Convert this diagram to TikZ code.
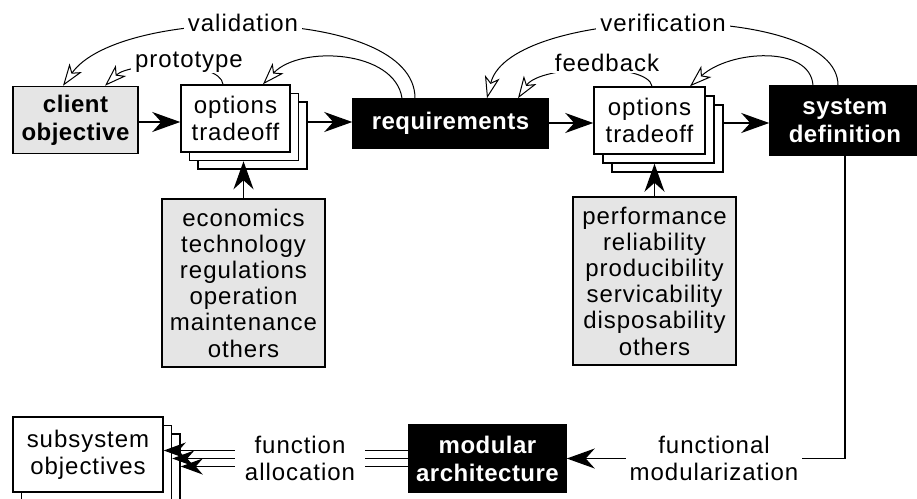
\documentclass[tikz,border=0pt]{standalone}
\usepackage{fontspec}
\setmainfont{Liberation Sans}
\newfontfamily\regfont{Liberation Sans}[LetterSpace=4]
\newfontfamily\boldfont{Liberation Sans Bold}[LetterSpace=2]
\usetikzlibrary{arrows.meta,calc}
\definecolor{boxgray}{gray}{0.9}
\tikzset{
  base/.style={draw=black, line width=1.5pt, inner sep=0pt, align=center, font=\fontsize{24}{27}\regfont},
  graybox/.style={base, fill=boxgray, font=\fontsize{24}{26.2}\regfont},
  darkbox/.style={base, fill=black, text=white, font=\fontsize{24}{28}\boldfont},
  clientbox/.style={base, fill=boxgray, font=\fontsize{24}{28}\boldfont},
  optbox/.style={base, fill=white, minimum width=110pt, minimum height=67pt},
  lbl/.style={fill=white, inner xsep=4pt, inner ysep=1pt, align=center, font=\fontsize{24}{27}\regfont},
  conn/.style={line width=1.4pt, -{Stealth[length=28pt,width=20pt,inset=9pt]}},
  connsmall/.style={line width=1.4pt, -{Stealth[length=22pt,width=16pt,inset=7pt]}},
  fb/.style={line width=1pt, -{Stealth[open,length=22pt,width=15pt,inset=6pt,fill=white]}},
}
\begin{document}
\begin{tikzpicture}[x=1pt,y=-1pt]
\fill[white] (0,0) rectangle (917,498);
\useasboundingbox (0,0) rectangle (917,498);

% top row
\node[clientbox, minimum width=125pt, minimum height=67pt] (client) at (75.5,120) {client\\objective};

\node[optbox, minimum width=109pt] (opt1c) at (252.5,135.5) {};
\node[optbox, minimum width=109pt] (opt1b) at (244,127) {};
\node[optbox, minimum width=109pt] (opt1) at (235.5,118.5) {options\\tradeoff};

\node[darkbox, minimum width=195pt, minimum height=49pt] (req) at (450.5,123.5) {requirements};

\node[optbox, minimum width=111pt] (opt2c) at (667.5,138.5) {};
\node[optbox, minimum width=111pt] (opt2b) at (658.5,129.5) {};
\node[optbox, minimum width=111pt] (opt2) at (649.5,120.5) {options\\tradeoff};

\node[darkbox, minimum width=150pt, minimum height=69pt] (sys) at (845,120.5) {system\\definition};

% gray factor boxes
\node[graybox, minimum width=163pt, minimum height=168pt] (g1) at (243.5,283) {economics\\technology\\regulations\\operation\\maintenance\\others};
\node[graybox, minimum width=163pt, minimum height=168pt] (g2) at (654.5,281) {performance\\reliability\\producibility\\servicability\\disposability\\others};

% bottom row
\node[darkbox, minimum width=157pt, minimum height=67pt] (mod) at (487.5,458.5) {modular\\architecture};

\node[optbox, minimum width=150pt, minimum height=75pt] (sub3) at (105,471.5) {};
\node[optbox, minimum width=150pt, minimum height=75pt] (sub2) at (96.5,463) {};
\node[optbox, minimum width=150pt, minimum height=75pt] (sub1) at (88,454.5) {subsystem\\objectives};

% straight connectors
\draw[conn] (client.east |- 0,122) -- (opt1.west |- 0,122);
\draw[conn] (opt1c.east |- 0,122) -- (req.west |- 0,122);
\draw[conn] (req.east |- 0,123) -- (opt2.west |- 0,123);
\draw[conn] (opt2c.east |- 0,123) -- (sys.west |- 0,123);
\draw[conn] (g1.north) -- (g1.north |- opt1b.south);
\draw[conn] (g2.north) -- (g2.north |- opt2b.south);
\draw[conn] (sys.south) |- (mod.east);
\node[lbl, inner xsep=4pt] (fm) at (714,458) {functional\\modularization};

\draw[connsmall] ([yshift=8pt]mod.west) -- ([yshift=8pt]mod.west -| sub1.east);
\draw[connsmall] (mod.west) -- (mod.west -| sub2.east);
\draw[connsmall] ([yshift=-8pt]mod.west) -- ([yshift=-8pt]mod.west -| sub3.east);
\node[lbl, inner xsep=10pt] (fa) at (300,458) {function\\allocation};

% feedback curves
\draw[fb] ([xshift=-35.5pt]req.north) .. controls (415,5) and (120,5) .. ([xshift=-12.5pt]client.north);
\node[lbl] (val) at (243,23) {validation};

\draw[fb] ([xshift=-12.5pt]opt1.north) .. controls (220,60) and (130,62) .. ([xshift=29.5pt]client.north);
\node[lbl] (proto) at (189,62) {prototype};

\draw[fb] ([xshift=-48.5pt]req.north) .. controls (395,50) and (300,45) .. ([xshift=27.5pt]opt1.north);

\draw[fb] ([xshift=-7pt]sys.north) .. controls (838,0) and (510,5) .. ([xshift=36.5pt]req.north);
\node[lbl] (ver) at (663,23) {verification};

\draw[fb] ([xshift=-32pt]sys.north) .. controls (810,45) and (730,50) .. ([xshift=40.5pt]opt2.north);

\draw[fb] ([xshift=2.5pt]opt2.north) .. controls (648,62) and (540,65) .. ([xshift=67.5pt]req.north);
\node[lbl] (feed) at (607,63) {feedback};
\end{tikzpicture}
\end{document}
